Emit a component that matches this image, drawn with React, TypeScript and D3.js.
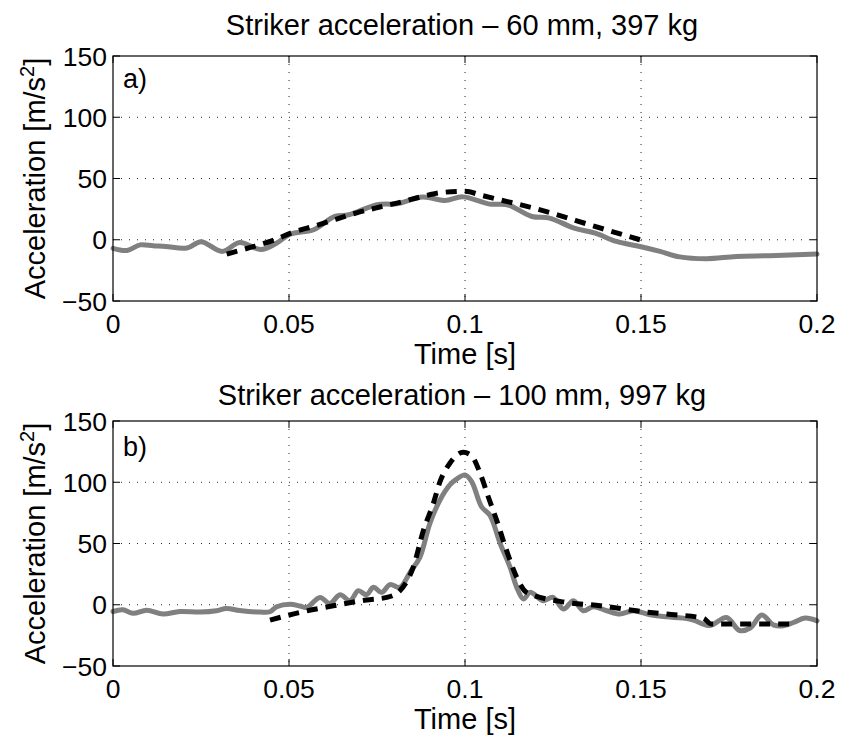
import React from "react";
import * as d3 from "d3";

const W = 843;
const H = 738;

const xTicks = [0, 0.05, 0.1, 0.15, 0.2];
const xTickLabels = ["0", "0.05", "0.1", "0.15", "0.2"];
const yTicks = [-50, 0, 50, 100, 150];
const yTickLabels = ["\u221250", "0", "50", "100", "150"];

const titleA = "Striker acceleration \u2013 60 mm, 397 kg";
const titleB = "Striker acceleration \u2013 100 mm, 997 kg";

// Panel a) measured (gray) [t, a]
const measuredA: [number, number][] = [
  [0, -7], [0.004, -8.7], [0.0077, -4.2], [0.0114, -4.9], [0.015, -5.5], [0.021, -6.8],
  [0.025, -1.6], [0.031, -9.5], [0.036, -2.2], [0.042, -8], [0.0465, -2.7], [0.0503, 4.5],
  [0.057, 8.2], [0.063, 19], [0.067, 20.4], [0.075, 28.6], [0.0806, 29.4], [0.088, 34.9],
  [0.0943, 32.1], [0.0994, 35], [0.107, 29.1], [0.112, 28.6], [0.119, 19], [0.124, 17.7],
  [0.131, 9.5], [0.137, 5.4], [0.143, -1.4], [0.1497, -5.5], [0.1554, -9.5], [0.161, -14],
  [0.1687, -15.5], [0.177, -13.6], [0.1866, -13], [0.2, -11.7],
];
// Panel a) model (dashed)
const modelA: [number, number][] = [
  [0.0323, -11.7], [0.039, -6.3], [0.0455, -0.5], [0.051, 6], [0.0579, 11.7], [0.0635, 16.9],
  [0.069, 21.8], [0.0758, 26.7], [0.0815, 30.5], [0.088, 35.4], [0.0938, 38.7], [0.1, 39.5],
  [0.105, 36], [0.124, 22.3], [0.136, 11.7], [0.1497, 0],
];
// Panel b) measured (gray)
const measuredB: [number, number][] = [
  [0, -5.5], [0.0028, -4.1], [0.0057, -7], [0.0096, -4.4], [0.0142, -7.6], [0.019, -5.5],
  [0.0247, -6], [0.0294, -4.9], [0.0322, -3], [0.036, -4.7], [0.0418, -6], [0.0446, -5.7],
  [0.0465, -1.6], [0.0503, 0.5], [0.0531, -1], [0.055, -2.2], [0.0588, 6], [0.0616, 1],
  [0.0645, 8.2], [0.0673, 3.3], [0.0697, 11.5], [0.072, 8.2], [0.074, 14.2], [0.0763, 10.1],
  [0.0787, 16.4], [0.0815, 14.2], [0.0844, 26.5], [0.0872, 38.9], [0.09, 66.3], [0.0929, 85.5],
  [0.0957, 97.8], [0.0976, 102.5], [0.1, 106], [0.1019, 100.5], [0.1047, 80], [0.1071, 73],
  [0.11, 49.9], [0.1128, 30.7], [0.1147, 14.2], [0.1166, 4.7], [0.1185, 10.1], [0.1222, 3.3],
  [0.125, 6], [0.128, -3.5], [0.1308, 3.3], [0.1336, -4.9], [0.1364, -1.6], [0.1403, -4.9],
  [0.144, -7.6], [0.1478, -4.9], [0.1526, -8.2], [0.1573, -9.9], [0.162, -10.9], [0.1649, -12.6],
  [0.1696, -17], [0.1743, -10.4], [0.178, -21], [0.181, -19], [0.1843, -8.4], [0.1876, -16.4],
  [0.1904, -17.2], [0.1933, -14.5], [0.1966, -10.9], [0.2, -13.1],
];
// Panel b) model (dashed)
const modelB: [number, number][] = [
  [0.0446, -12.6], [0.053, -6.3], [0.0626, -0.8], [0.072, 3.9], [0.0778, 6], [0.0815, 11.5],
  [0.0853, 30.7], [0.0882, 60.8], [0.091, 82.7], [0.0929, 100.5], [0.0957, 115.5], [0.0995, 124.5],
  [0.1019, 121.5], [0.1043, 107.3], [0.1066, 88.2], [0.109, 69], [0.1118, 44.4], [0.1147, 22.4],
  [0.1175, 10.1], [0.1289, 1.9], [0.1384, -0.8], [0.15, -5.5], [0.1573, -7.6], [0.1677, -11],
  [0.17, -15.8], [0.1933, -15.8],
];

const FONT = "'Liberation Sans', Arial, Helvetica, sans-serif";
const left = 113;
const right = 817;

type PanelProps = {
  top: number;
  bottom: number;
  title: string;
  titleY: number;
  tag: string;
  tagY: number;
  measured: [number, number][];
  model: [number, number][];
};

function Panel({ top, bottom, title, titleY, tag, tagY, measured, model }: PanelProps) {
  const x = d3.scaleLinear().domain([0, 0.2]).range([left, right]);
  const y = d3.scaleLinear().domain([-50, 150]).range([bottom, top]);
  const grayLine = d3
    .line<[number, number]>()
    .x((d) => x(d[0]))
    .y((d) => y(d[1]))
    .curve(d3.curveCatmullRom.alpha(0.5));
  const dashLine = d3
    .line<[number, number]>()
    .x((d) => x(d[0]))
    .y((d) => y(d[1]))
    .curve(d3.curveMonotoneX);
  const cx = (left + right) / 2;
  const cy = (top + bottom) / 2;
  return (
    <g>
      {xTicks.slice(1, -1).map((t) => (
        <line key={"gx" + t} x1={x(t)} x2={x(t)} y1={top} y2={bottom} stroke="#222" strokeWidth={1} strokeDasharray="1,7" />
      ))}
      {yTicks.slice(1, -1).map((t) => (
        <line key={"gy" + t} x1={left} x2={right} y1={y(t)} y2={y(t)} stroke="#222" strokeWidth={1} strokeDasharray="1,7" />
      ))}
      {xTicks.map((t) => (
        <g key={"tx" + t}>
          <line x1={x(t)} x2={x(t)} y1={bottom} y2={bottom - 7} stroke="#000" />
          <line x1={x(t)} x2={x(t)} y1={top} y2={top + 7} stroke="#000" />
        </g>
      ))}
      {yTicks.map((t) => (
        <g key={"ty" + t}>
          <line x1={left} x2={left + 7} y1={y(t)} y2={y(t)} stroke="#000" />
          <line x1={right} x2={right - 7} y1={y(t)} y2={y(t)} stroke="#000" />
        </g>
      ))}
      <path d={grayLine(measured) || ""} fill="none" stroke="#808080" strokeWidth={5} strokeLinejoin="round" strokeLinecap="round" />
      <path d={dashLine(model) || ""} fill="none" stroke="#000" strokeWidth={5} strokeDasharray="11,8" />
      <rect x={left} y={top} width={right - left} height={bottom - top} fill="none" stroke="#000" strokeWidth={1.2} />
      {xTicks.map((t, i) => (
        <text key={"lx" + t} x={x(t)} y={bottom + 32} textAnchor="middle" fontSize={26.5} fontFamily={FONT}>
          {xTickLabels[i]}
        </text>
      ))}
      {yTicks.map((t, i) => (
        <text key={"ly" + t} x={left - 6} y={y(t) + 9.5} textAnchor="end" fontSize={26.5} fontFamily={FONT}>
          {yTickLabels[i]}
        </text>
      ))}
      <text x={cx} y={bottom + 63} textAnchor="middle" fontSize={29} fontFamily={FONT}>
        Time [s]
      </text>
      <text transform={`translate(45,${cy}) rotate(-90)`} textAnchor="middle" fontSize={29} fontFamily={FONT}>
        Acceleration [m/s
        <tspan dy={-11} fontSize={20}>2</tspan>
        <tspan dy={11}>]</tspan>
      </text>
      <text x={cx - 3} y={titleY} textAnchor="middle" fontSize={29} fontFamily={FONT}>
        {title}
      </text>
      <text x={123} y={tagY} fontSize={27} fontFamily={FONT}>
        {tag}
      </text>
    </g>
  );
}

export default function App() {
  return (
    <svg
      width={W}
      height={H}
      viewBox={`0 0 ${W} ${H}`}
      style={{ position: "absolute", left: 0, top: 0, background: "#fff" }}
    >
      <rect x={0} y={0} width={W} height={H} fill="#fff" />
      <Panel top={56} bottom={301} title={titleA} titleY={35} tag="a)" tagY={88} measured={measuredA} model={modelA} />
      <Panel top={421} bottom={666} title={titleB} titleY={405} tag="b)" tagY={456} measured={measuredB} model={modelB} />
    </svg>
  );
}
